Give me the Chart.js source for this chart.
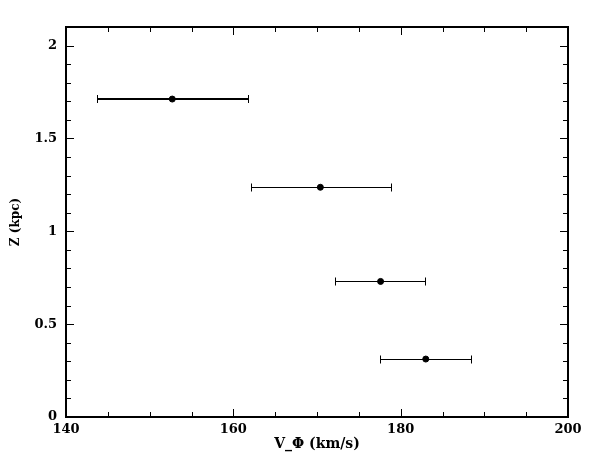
<!DOCTYPE html>
<html lang="en">
<head>
<meta charset="UTF-8">
<title>Z vs V_phi</title>
<script src="https://cdn.jsdelivr.net/npm/chart.js"></script>
<style>
  html, body { margin: 0; padding: 0; background: #fff; }
  #wrap { width: 600px; height: 469px; }
</style>
</head>
<body>
<div id="wrap"><canvas id="chart" width="600" height="469"></canvas></div>
<script>
// data
const vPhi = [152.7, 170.4, 177.6, 183.0];
const zKpc = [1.712, 1.237, 0.730, 0.312];
const vPhiLow = [143.7, 162.1, 172.2, 177.5];
const vPhiHigh = [161.7, 178.9, 182.9, 188.4];

// axes
const xTicks = [140, 160, 180, 200];
const xMinor = [145, 150, 155, 165, 170, 175, 185, 190, 195];
const yTicks = [0, 0.5, 1, 1.5, 2];
const yTickLabels = ['0', '0.5', '1', '1.5', '2'];
const yMinor = [0.1, 0.2, 0.3, 0.4, 0.6, 0.7, 0.8, 0.9, 1.1, 1.2, 1.3, 1.4, 1.6, 1.7, 1.8, 1.9, 2.0];

const errWidth = [2, 1, 1, 1];
const labelFont = { family: '"DejaVu Serif", serif', size: 13, weight: 'bold' };

// horizontal error bars, drawn under the points
const errorBars = {
  id: 'errorBars',
  beforeDatasetsDraw(chart) {
    const { ctx, scales: { x, y } } = chart;
    ctx.save();
    ctx.strokeStyle = '#000';
    vPhi.forEach((v, i) => {
      const w = errWidth[i];
      let py = Math.round(y.getPixelForValue(zKpc[i]));
      if (w % 2) py += 0.5;
      const x0 = Math.round(x.getPixelForValue(vPhiLow[i])) + 0.5;
      const x1 = Math.round(x.getPixelForValue(vPhiHigh[i])) + 0.5;
      ctx.lineWidth = w;
      ctx.beginPath();
      ctx.moveTo(x0, py); ctx.lineTo(x1, py);
      ctx.stroke();
      ctx.lineWidth = 1;
      ctx.beginPath();
      ctx.moveTo(x0, py - 4); ctx.lineTo(x0, py + 4);
      ctx.moveTo(x1, py - 4); ctx.lineTo(x1, py + 4);
      ctx.stroke();
    });
    ctx.restore();
  }
};

// box frame with inward ticks on all four sides
const frame = {
  id: 'frame',
  afterDraw(chart) {
    const { ctx, chartArea: a, scales: { x, y } } = chart;
    ctx.save();
    ctx.strokeStyle = '#000';
    ctx.lineWidth = 1;
    ctx.beginPath();
    const xt = (v, len) => {
      const px = Math.round(x.getPixelForValue(v)) + 0.5;
      ctx.moveTo(px, a.bottom); ctx.lineTo(px, a.bottom - len);
      ctx.moveTo(px, a.top); ctx.lineTo(px, a.top + len);
    };
    const yt = (v, len) => {
      const py = Math.round(y.getPixelForValue(v)) + 0.5;
      ctx.moveTo(a.left, py); ctx.lineTo(a.left + len, py);
      ctx.moveTo(a.right, py); ctx.lineTo(a.right - len, py);
    };
    xTicks.forEach(v => xt(v, 8));
    xMinor.forEach(v => xt(v, 5));
    yTicks.forEach(v => yt(v, 8));
    yMinor.forEach(v => yt(v, 5));
    ctx.stroke();
    ctx.lineWidth = 2;
    ctx.strokeRect(a.left, a.top, a.right - a.left, a.bottom - a.top);
    ctx.restore();
  }
};

new Chart(document.getElementById('chart'), {
  type: 'scatter',
  data: {
    datasets: [{
      data: vPhi.map((v, i) => ({ x: v, y: zKpc[i] })),
      backgroundColor: '#000',
      borderColor: '#000',
      pointRadius: 3,
      pointHoverRadius: 3
    }]
  },
  options: {
    responsive: false,
    animation: false,
    layout: { padding: { top: 27, right: 32, bottom: 12, left: 0 } },
    plugins: { legend: { display: false }, tooltip: { enabled: false } },
    scales: {
      x: {
        type: 'linear',
        min: 140, max: 200,
        afterBuildTicks: s => { s.ticks = xTicks.map(v => ({ value: v })); },
        afterFit: s => { s.height = 40; },
        grid: { display: false, drawTicks: false },
        border: { display: false },
        ticks: { color: '#000', font: labelFont, padding: 5, maxRotation: 0 },
        title: { display: true, text: 'V_Φ (km/s)', color: '#000', font: { family: '"DejaVu Serif", serif', size: 14, weight: 'bold' }, padding: { top: 0, bottom: 4 } }
      },
      y: {
        type: 'linear',
        min: 0, max: 2.1,
        afterBuildTicks: s => { s.ticks = yTicks.map(v => ({ value: v })); },
        afterFit: s => { s.width = 66; },
        grid: { display: false, drawTicks: false },
        border: { display: false },
        ticks: {
          color: '#000', font: labelFont, padding: 9,
          callback: (v) => yTickLabels[yTicks.indexOf(v)]
        },
        title: { display: true, text: 'Z (kpc)', color: '#000', font: { family: '"DejaVu Serif", serif', size: 12, weight: 'bold' }, padding: { top: 9, bottom: 0 } }
      }
    }
  },
  plugins: [errorBars, frame]
});
</script>
</body>
</html>
